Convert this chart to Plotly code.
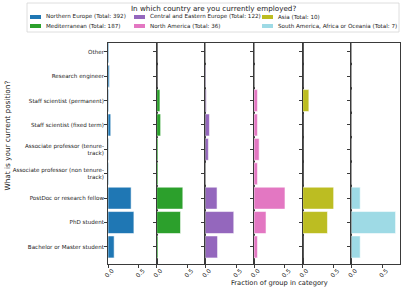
import plotly.graph_objects as go
from plotly.subplots import make_subplots

# ---------------- data ----------------
positions = [
    "Bachelor or Master student",
    "PhD student",
    "PostDoc or research fellow",
    "Associate professor (non tenure-track)",
    "Associate professor (tenure-track)",
    "Staff scientist (fixed term)",
    "Staff scientist (permanent)",
    "Research engineer",
    "Other",
]
position_ticktext = [
    "Bachelor or Master student",
    "PhD student",
    "PostDoc or research fellow",
    "Associate professor (non tenure-<br>track)",
    "Associate professor (tenure-<br>track)",
    "Staff scientist (fixed term)",
    "Staff scientist (permanent)",
    "Research engineer",
    "Other",
]
regions = [
    "Northern Europe",
    "Mediterranean",
    "Central and Eastern Europe",
    "North America",
    "Asia",
    "South America, Africa or Oceania",
]
totals = [392, 187, 122, 36, 10, 7]
colors = ["#1f77b4", "#2ca02c", "#9467bd", "#e377c2", "#bcbd22", "#9edae5"]

# fractions, in the order of `positions` (bottom to top)
northern_europe = [0.099, 0.418, 0.373, 0.010, 0.010, 0.044, 0.011, 0.022, 0.013]
mediterranean = [0.021, 0.385, 0.422, 0.021, 0.021, 0.064, 0.053, 0.005, 0.005]
central_eastern = [0.197, 0.459, 0.189, 0.0, 0.049, 0.066, 0.016, 0.008, 0.0]
north_america = [0.056, 0.194, 0.500, 0.056, 0.083, 0.056, 0.056, 0.0, 0.0]
asia = [0.0, 0.400, 0.500, 0.0, 0.0, 0.0, 0.100, 0.0, 0.0]
south_america_africa_oceania = [0.143, 0.714, 0.143, 0.0, 0.0, 0.0, 0.0, 0.0, 0.0]
series = [northern_europe, mediterranean, central_eastern, north_america, asia,
          south_america_africa_oceania]

x_ticks = [0.0, 0.5]
x_ticktext = ["0.0", "0.5"]

y_title = "What is your current position?"
x_title = "Fraction of group in category"
legend_title = "In which country are you currently employed?"

# ---------------- figure ----------------
W, H = 407, 291
ML, MR, MT, MB = 108, 7, 43, 27
PW, PH = W - ML - MR, H - MT - MB

def px2x(px):
    return (px - ML) / PW

def py2y(py):
    return (H - MB - py) / PH

FONT = "DejaVu Sans"
TXT = "#1a1a1a"
SPINE = "#3a3a3a"

n = len(regions)
fig = make_subplots(rows=1, cols=n, shared_yaxes=True, horizontal_spacing=0)

for i, (name, vals) in enumerate(zip(regions, series)):
    fig.add_trace(
        go.Bar(
            x=vals, y=positions, orientation="h", name=f"{name} (Total: {totals[i]})",
            marker=dict(color=colors[i], line=dict(color="rgba(255,255,255,0.55)", width=1)),
            showlegend=False,
        ),
        row=1, col=i + 1,
    )

xmax = max(max(s) for s in series) * 1.1
for i in range(n):
    fig.update_xaxes(
        row=1, col=i + 1, range=[0, xmax], tickvals=x_ticks, ticktext=x_ticktext,
        tickangle=-45, ticks="outside", ticklen=3, tickwidth=0.8, tickcolor=SPINE,
        tickfont=dict(size=6, color=TXT, family=FONT),
        ticklabelstandoff=-3, ticklabelshift=4,
        showline=True, mirror=True, linecolor=SPINE, linewidth=0.8,
        showgrid=False, zeroline=False,
    )
    fig.update_yaxes(
        row=1, col=i + 1, type="category", categoryorder="array", categoryarray=positions,
        tickvals=positions, ticktext=position_ticktext, range=[-0.7, 8.36],
        ticks="outside", ticklen=3, tickwidth=0.8, tickcolor=SPINE,
        tickfont=dict(size=5.6, color=TXT, family=FONT),
        ticklabelstandoff=-1,
        showticklabels=(i == 0),
        showline=True, mirror=True, linecolor=SPINE, linewidth=0.8,
        showgrid=False, zeroline=False,
    )

# ------------- legend (drawn box with swatches and labels) -------------
shapes = [dict(type="rect", xref="paper", yref="paper", x0=px2x(27), x1=px2x(399),
               y0=py2y(32), y1=py2y(3), line=dict(color="#d6d6d6", width=0.8),
               fillcolor="rgba(255,255,255,0.8)", layer="below")]
annotations = [
    dict(text=legend_title, xref="paper", yref="paper",
         x=px2x(213), y=py2y(8.5), showarrow=False, xanchor="center", yanchor="middle",
         font=dict(size=7.2, color=TXT, family=FONT)),
    dict(text=y_title, xref="paper", yref="paper", x=px2x(7), y=py2y(135.5), textangle=-90,
         showarrow=False, xanchor="center", yanchor="middle",
         font=dict(size=7.3, color=TXT, family=FONT)),
    dict(text=x_title, xref="paper", yref="paper", x=px2x(279.5), y=py2y(282.5), showarrow=False,
         xanchor="center", yanchor="middle", font=dict(size=6.7, color=TXT, family=FONT)),
]
col_swatch_px = [30, 134, 262]
rows_py = [17, 26]
for i, name in enumerate(regions):
    c, r = i // 2, i % 2
    sx = col_swatch_px[c]
    sy = rows_py[r]
    shapes.append(dict(type="rect", xref="paper", yref="paper", x0=px2x(sx), x1=px2x(sx + 11),
                       y0=py2y(sy + 2), y1=py2y(sy - 2), line=dict(width=0),
                       fillcolor=colors[i]))
    annotations.append(dict(text=f"{name} (Total: {totals[i]})", xref="paper", yref="paper",
                            x=px2x(sx + 14), y=py2y(sy), showarrow=False, xanchor="left",
                            yanchor="middle", font=dict(size=5.6, color=TXT, family=FONT)))

fig.update_layout(
    width=W, height=H, margin=dict(l=ML, r=MR, t=MT, b=MB, autoexpand=False),
    paper_bgcolor="white", plot_bgcolor="white", bargap=0.1,
    font=dict(family=FONT, color=TXT), shapes=shapes, annotations=annotations,
    showlegend=False,
)

fig.write_html(
    "out.html",
    config={"displayModeBar": False},
    post_script="document.body.style.margin='0';document.body.style.padding='0';",
)
